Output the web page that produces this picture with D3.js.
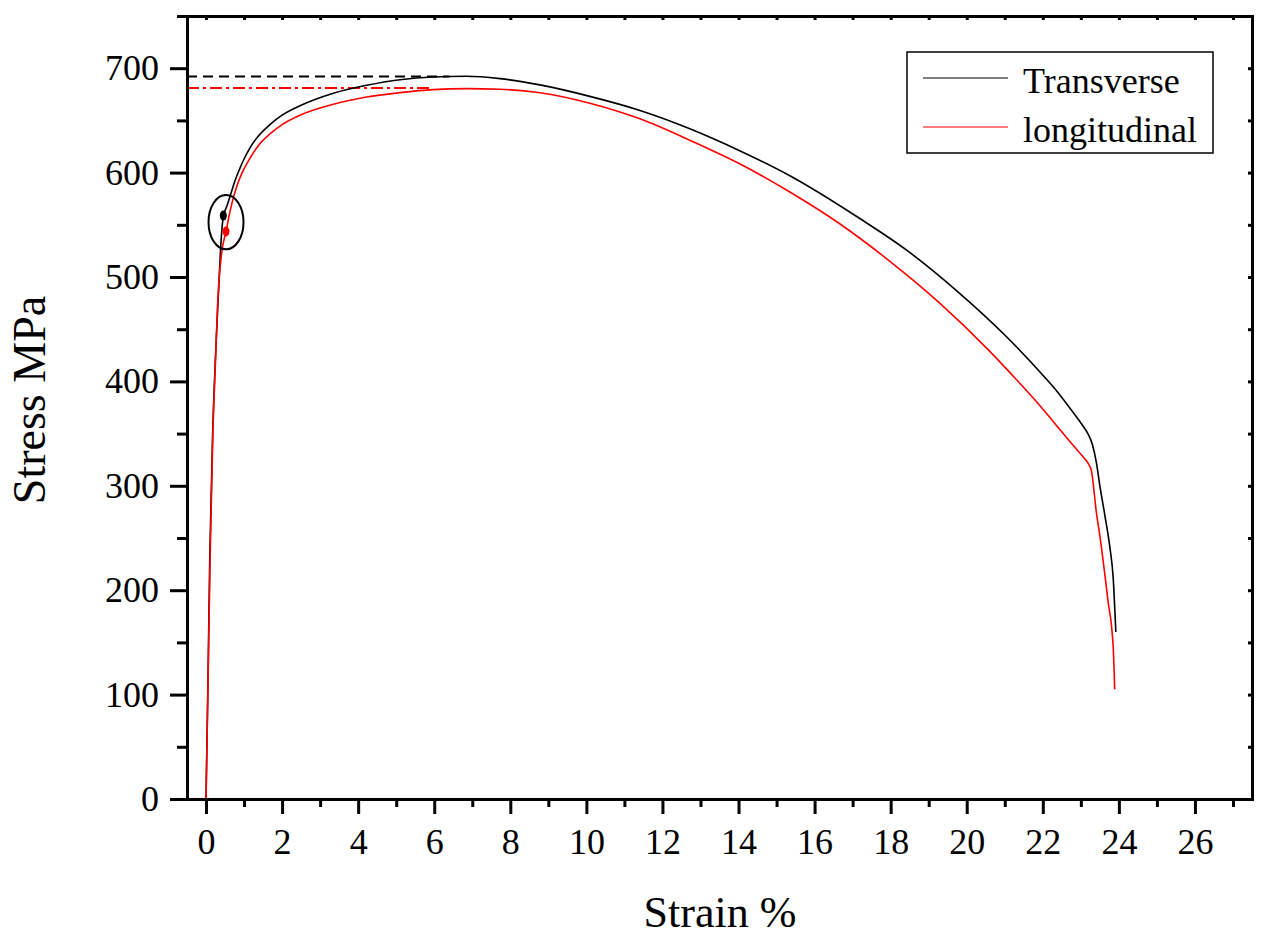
<!DOCTYPE html>
<html>
<head>
<meta charset="utf-8">
<script src="https://cdn.jsdelivr.net/npm/d3@7"></script>
<style>
  body { margin: 0; background: #fff; }
  svg { display: block; font-family: 'Liberation Serif', 'Times New Roman', serif; }
  .axis path, .axis line { stroke: #000; stroke-width: 3; }
  .axis text { font-family: 'Liberation Serif', 'Times New Roman', serif; font-size: 36px; fill: #000; }
</style>
</head>
<body>
<div class="chart"></div>
<script>
// stress-strain curves
const tStrain = [0, 0.05, 0.1, 0.175, 0.25, 0.32, 0.38, 0.455, 0.55, 0.63, 0.75, 0.89, 1.0, 1.16, 1.4, 1.68, 2.0, 2.47, 3.35, 4.22, 5.1, 5.97, 6.85, 7.73, 8.78, 10.09, 11.41, 12.72, 14.03, 15.35, 17.19, 18.41, 19.73, 21.04, 22.05, 22.36, 22.7, 23.06, 23.2, 23.3, 23.41, 23.5, 23.63, 23.76, 23.85, 23.92]
const tStress = [0, 110, 235, 351, 425, 479, 525, 558, 568, 577, 591, 604, 613, 624, 636, 646, 655, 664, 676, 683.6, 689, 691.6, 692.3, 690, 684, 673, 659.5, 642, 621, 597, 556, 526, 487, 443, 404, 391, 375, 357, 349, 340, 322, 300, 272, 242, 212, 160]

const lStrain = [0, 0.05, 0.11, 0.18, 0.25, 0.3, 0.4, 0.526, 0.62, 0.72, 0.81, 0.95, 1.16, 1.4, 1.68, 2.0, 2.47, 3.35, 4.22, 5.1, 5.97, 6.85, 7.73, 8.78, 10.09, 11.41, 12.72, 14.03, 15.35, 16.66, 17.98, 19.29, 20.6, 21.4, 21.92, 22.31, 22.79, 23.1, 23.2, 23.28, 23.41, 23.5, 23.71, 23.85, 23.89]
const lStress = [0, 105, 235, 350, 420, 470, 520, 543.5, 561, 576, 587, 600, 614, 627, 637, 646, 655, 665.5, 672.4, 676.6, 679.5, 680.4, 679.8, 676.5, 666.5, 651.5, 631, 608.4, 581.4, 551, 515, 475, 429, 398, 377, 360, 339, 326, 321, 314, 274, 252, 191, 146, 105]

// yield points, ultimate stress guide lines and the ellipse round the yield points
const yieldStrain = [0.455, 0.526]
const yieldStress = [558.8, 543.5]
const utsStress = [692, 681]
const utsEnd = [6.4, 5.95]
const ringCenter = [0.526, 552.5]
const ringRadius = [0.46, 26]

const seriesNames = ['Transverse', 'longitudinal']
const seriesColors = ['#000000', '#ff0000']

const xMajor = d3.range(0, 27, 2)
const xMinor = d3.range(1, 28, 2)
const yMajor = d3.range(0, 701, 100)
const yMinor = d3.range(50, 751, 100)

const width = 1269
const height = 943
const margin = { top: 16, right: 17, bottom: 144, left: 187 }

const svg = d3.select('.chart')
  .append('svg')
  .attr('width', width)
  .attr('height', height)

const x = d3.scaleLinear().domain([-0.5, 27.5]).range([margin.left, width - margin.right])
const y = d3.scaleLinear().domain([0, 750]).range([height - margin.bottom, margin.top])

const line = d3.line()
  .x(d => x(d[0]))
  .y(d => y(d[1]))
  .curve(d3.curveMonotoneX)

const series = [
  d3.zip(tStrain, tStress),
  d3.zip(lStrain, lStress)
]

// guide lines at the ultimate stress
svg.append('line')
  .attr('x1', x(-0.5)).attr('x2', x(utsEnd[0]))
  .attr('y1', y(utsStress[0])).attr('y2', y(utsStress[0]))
  .attr('stroke', seriesColors[0])
  .attr('stroke-width', 2)
  .attr('stroke-dasharray', '10,6')

svg.append('line')
  .attr('x1', x(-0.5)).attr('x2', x(utsEnd[1]))
  .attr('y1', y(utsStress[1])).attr('y2', y(utsStress[1]))
  .attr('stroke', seriesColors[1])
  .attr('stroke-width', 2)
  .attr('stroke-dasharray', '12,4,3,4')

svg.selectAll('.curve')
  .data(series)
  .enter()
  .append('path')
  .attr('class', 'curve')
  .attr('d', line)
  .attr('fill', 'none')
  .attr('stroke', (d, i) => seriesColors[i])
  .attr('stroke-width', 1.6)

svg.selectAll('.yield')
  .data(yieldStrain)
  .enter()
  .append('ellipse')
  .attr('class', 'yield')
  .attr('cx', d => x(d))
  .attr('cy', (d, i) => y(yieldStress[i]))
  .attr('rx', 3.5)
  .attr('ry', 5)
  .attr('fill', (d, i) => seriesColors[i])

svg.append('ellipse')
  .attr('cx', x(ringCenter[0]))
  .attr('cy', y(ringCenter[1]))
  .attr('rx', x(ringCenter[0] + ringRadius[0]) - x(ringCenter[0]))
  .attr('ry', y(ringCenter[1] - ringRadius[1]) - y(ringCenter[1]))
  .attr('fill', 'none')
  .attr('stroke', '#000')
  .attr('stroke-width', 2)

// axes
const bottom = svg.append('g')
  .attr('class', 'axis')
  .attr('transform', `translate(0,${y(0)})`)
bottom.call(d3.axisBottom(x).tickValues(xMinor).tickSize(8).tickFormat('').tickSizeOuter(0))
bottom.append('g').call(d3.axisBottom(x).tickValues(xMajor).tickSize(15).tickSizeOuter(0))
  .selectAll('text').attr('y', 29)

const left = svg.append('g')
  .attr('class', 'axis')
  .attr('transform', `translate(${x(-0.5)},0)`)
left.call(d3.axisLeft(y).tickValues(yMinor).tickSize(10).tickFormat('').tickSizeOuter(0))
left.append('g').call(d3.axisLeft(y).tickValues(yMajor).tickSize(17).tickSizeOuter(0))
  .selectAll('text').attr('x', -28)

svg.append('g')
  .attr('class', 'axis')
  .attr('transform', `translate(0,${y(750)})`)
  .call(d3.axisTop(x).tickValues(d3.range(0, 28, 1)).tickSize(-4).tickFormat('').tickSizeOuter(0))

svg.append('g')
  .attr('class', 'axis')
  .attr('transform', `translate(${x(27.5)},0)`)
  .call(d3.axisRight(y).tickValues(d3.range(0, 751, 50)).tickSize(-4).tickFormat('').tickSizeOuter(0))

svg.selectAll('.axis .domain').attr('stroke-linecap', 'square')

svg.append('text')
  .attr('x', 720)
  .attr('y', 927)
  .attr('text-anchor', 'middle')
  .attr('font-size', 44)
  .text('Strain %')

svg.append('text')
  .attr('transform', 'translate(45,400) rotate(-90)')
  .attr('text-anchor', 'middle')
  .attr('font-size', 46)
  .text('Stress MPa')

// legend
const legend = svg.append('g')
legend.append('rect')
  .attr('x', 907).attr('y', 52)
  .attr('width', 306).attr('height', 101)
  .attr('fill', '#fff')
  .attr('stroke', '#000')
  .attr('stroke-width', 1.5)

seriesNames.forEach((name, i) => {
  const ly = 78 + i * 49
  legend.append('line')
    .attr('x1', 923).attr('x2', 1008)
    .attr('y1', ly).attr('y2', ly)
    .attr('stroke', seriesColors[i])
    .attr('stroke-width', 1.2)
  legend.append('text')
    .attr('x', 1023)
    .attr('y', ly + 15)
    .attr('font-size', 36)
    .text(name)
})
</script>
</body>
</html>
